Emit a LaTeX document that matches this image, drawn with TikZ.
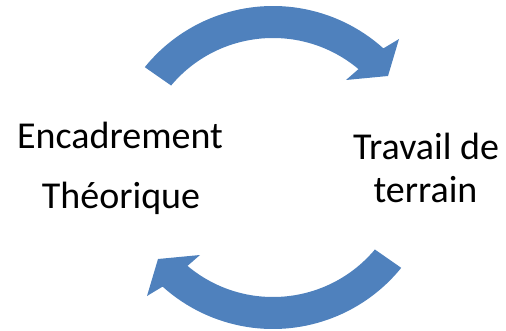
\documentclass[tikz,border=0pt]{standalone}
\usepackage{fontspec}
\setmainfont{Carlito}
\definecolor{arrowblue}{RGB}{79,129,189}

\tikzset{
  label/.style={anchor=base, inner sep=0pt, font=\fontsize{38}{45}\selectfont},
  cycarrow/.pic={
    \fill[arrowblue] (141:165) arc[start angle=141, end angle=48, radius=165]
      -- (126,132) -- (115,95) -- (73,91) -- (50:133)
      arc[start angle=50, end angle=140, radius=133] -- cycle;
  }
}

\begin{document}
\begin{tikzpicture}[x=1pt, y=1pt]
        \useasboundingbox (0,0) rectangle (506,330);
        \pic at (273,159) {cycarrow};
        \pic[rotate=180] at (273,166) {cycarrow};
        \node[label] (enc) at (120,182) {Encadrement};
        \node[label] (theo) at (121,122) {Théorique};
        \node[label] (trav) at (426,171) {Travail de};
        \node[label] (terr) at (425.5,128) {terrain};
\end{tikzpicture}
\end{document}
